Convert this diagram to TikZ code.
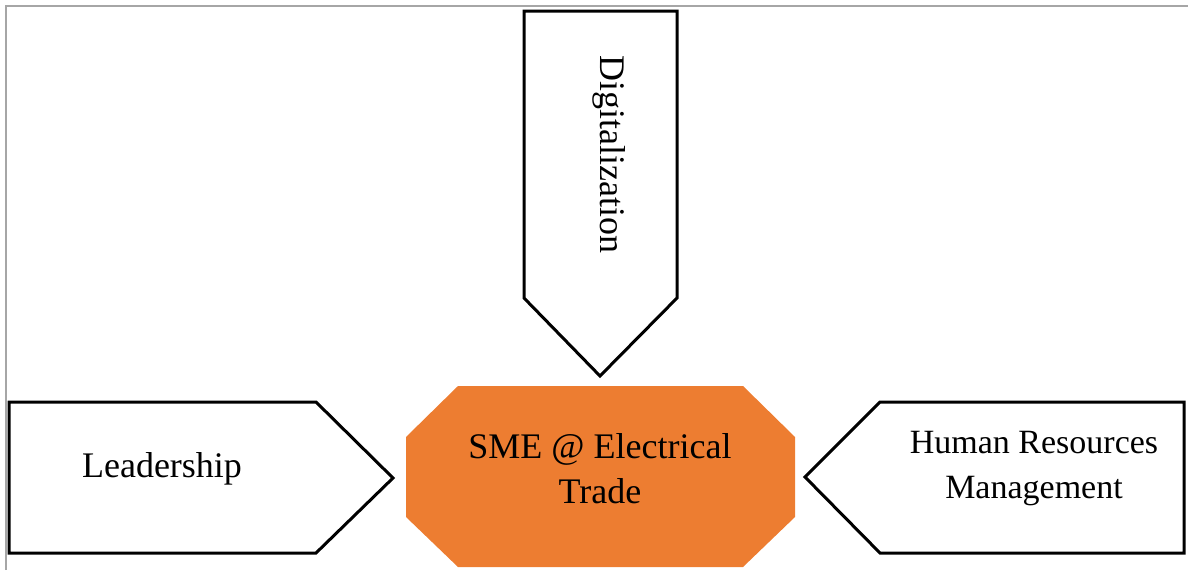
\documentclass[tikz,border=0pt]{standalone}
\usepackage{fontspec}
\setmainfont{Liberation Serif}
\newfontfamily\termsfont{Liberation Serif}
\definecolor{hubfill}{HTML}{ED7D31}
\definecolor{framegray}{HTML}{A6A6A6}
\begin{document}
\begin{tikzpicture}[x=1pt,y=-1pt,
  arrowshape/.style={draw=black,line width=3pt,fill=white,line join=miter},
  txt/.style={font=\termsfont\fontsize{36}{45}\selectfont,inner sep=0pt,align=center,anchor=base},
  hub/.style={fill=hubfill,draw=none}]
\useasboundingbox (0,0) rectangle (1188,570);
% page frame
\draw[framegray,line width=2pt] (6,570) -- (6,6) -- (1188,6);
% incoming arrows
\draw[arrowshape] (524,11) -- (677,11) -- (677,298) -- (600,376) -- (524,298) -- cycle;
\draw[arrowshape] (9,402) -- (316,402) -- (393,478) -- (316,553) -- (9,553) -- cycle;
\draw[arrowshape] (805,477) -- (880,402) -- (1184,402) -- (1184,553) -- (880,553) -- cycle;
% central octagon
\fill[hub] (458,386) -- (743,386) -- (795,437) -- (795,517) -- (743,567)
  -- (458,567) -- (406,517) -- (406,437) -- cycle;
% labels
\node[txt,rotate=-90] (digital) at (600,154) {Digitalization};
\node[txt] (lead) at (162,477) {Leadership};
\node[txt,font=\termsfont\fontsize{34}{45}\selectfont] (hrm) at (1034,498) {Human Resources\\Management};
\node[txt] (sme) at (600,503) {SME @ Electrical\\Trade};
\end{tikzpicture}
\end{document}
